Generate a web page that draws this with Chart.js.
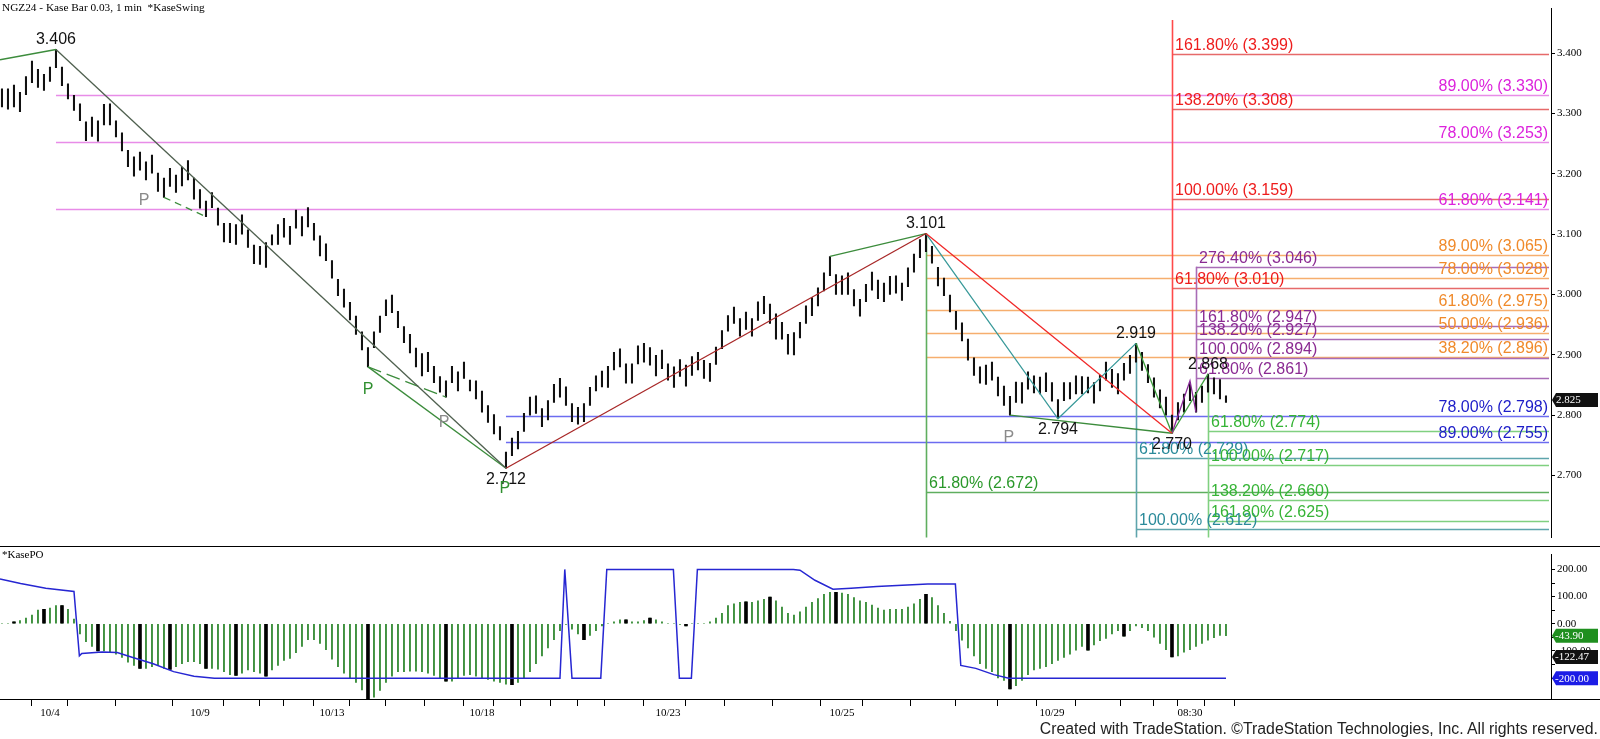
<!DOCTYPE html>
<html>
<head>
<meta charset="utf-8">
<title>NGZ24 Kase Bar</title>
<script src="https://cdn.jsdelivr.net/npm/chart.js@4.4.1/dist/chart.umd.min.js"></script>
<style>
  html, body { margin: 0; padding: 0; background: #fff; }
  #wrap { position: relative; width: 1600px; height: 739px; overflow: hidden; }
  canvas { position: absolute; left: 0; }
  #priceCanvas { top: 0; }
  #poCanvas { top: 546px; }
  .txt { position: absolute; font-family: 'Liberation Serif', 'Times New Roman', serif; color: #000; white-space: nowrap; }
  #title { left: 2px; top: 1px; font-size: 11.3px; }
  #poTitle { left: 2px; top: 548px; font-size: 11px; }
  #credit { right: 2px; top: 720px; font-family: 'Liberation Sans', Arial, sans-serif; font-size: 16px; color: #222; transform-origin: right center; }
</style>
</head>
<body>
<div id="wrap">
  <canvas id="priceCanvas" width="1600" height="546"></canvas>
  <canvas id="poCanvas" width="1600" height="193"></canvas>
  <div class="txt" id="title">NGZ24 - Kase Bar 0.03, 1 min&nbsp;&nbsp;*KaseSwing</div>
  <div class="txt" id="poTitle">*KasePO</div>
  <div class="txt" id="credit">Created with TradeStation. ©TradeStation Technologies, Inc. All rights reserved.</div>
</div>
<script>
// Kase bars (high / low), one per bar index
const barHigh = [
  3.341, 3.341, 3.347, 3.335, 3.361, 3.387, 3.373, 3.365, 3.377, 3.406,
  3.377, 3.349, 3.330, 3.316, 3.286, 3.294, 3.288, 3.315, 3.316, 3.288,
  3.268, 3.239, 3.228, 3.236, 3.220, 3.231, 3.201, 3.193, 3.209, 3.198,
  3.211, 3.222, 3.193, 3.174, 3.155, 3.169, 3.143, 3.118, 3.118, 3.116,
  3.132, 3.107, 3.082, 3.080, 3.086, 3.099, 3.116, 3.126, 3.113, 3.140,
  3.129, 3.144, 3.118, 3.097, 3.084, 3.056, 3.025, 3.009, 2.987, 2.964,
  2.938, 2.912, 2.938, 2.964, 2.991, 2.999, 2.972, 2.947, 2.934, 2.911,
  2.902, 2.904, 2.881, 2.864, 2.857, 2.881, 2.872, 2.888, 2.858, 2.857,
  2.840, 2.816, 2.801, 2.781, 2.739, 2.762, 2.773, 2.803, 2.830, 2.832,
  2.811, 2.824, 2.851, 2.861, 2.847, 2.819, 2.813, 2.819, 2.846, 2.865,
  2.873, 2.881, 2.904, 2.910, 2.885, 2.885, 2.915, 2.919, 2.912, 2.899,
  2.908, 2.885, 2.880, 2.892, 2.883, 2.897, 2.904, 2.891, 2.886, 2.913,
  2.940, 2.965, 2.979, 2.960, 2.971, 2.960, 2.988, 2.997, 2.984, 2.968,
  2.954, 2.934, 2.937, 2.954, 2.981, 2.995, 3.011, 3.036, 3.063, 3.033,
  3.031, 3.036, 3.008, 2.992, 3.017, 3.037, 3.024, 3.019, 3.030, 3.031,
  3.019, 3.044, 3.067, 3.091, 3.101, 3.080, 3.045, 3.027, 2.999, 2.972,
  2.953, 2.926, 2.895, 2.880, 2.883, 2.888, 2.863, 2.848, 2.831, 2.855,
  2.854, 2.872, 2.865, 2.863, 2.870, 2.854, 2.826, 2.854, 2.854, 2.865,
  2.864, 2.863, 2.854, 2.866, 2.888, 2.876, 2.869, 2.886, 2.899, 2.919,
  2.904, 2.884, 2.862, 2.842, 2.830, 2.800, 2.821, 2.835, 2.854, 2.838,
  2.848, 2.868, 2.862, 2.859, 2.832
];
const barLow = [
  3.311, 3.307, 3.311, 3.303, 3.331, 3.351, 3.343, 3.338, 3.353, 3.376,
  3.346, 3.324, 3.305, 3.288, 3.255, 3.262, 3.254, 3.281, 3.281, 3.261,
  3.238, 3.212, 3.196, 3.206, 3.190, 3.201, 3.171, 3.161, 3.179, 3.169,
  3.180, 3.190, 3.158, 3.143, 3.129, 3.144, 3.115, 3.087, 3.086, 3.083,
  3.100, 3.078, 3.051, 3.050, 3.045, 3.082, 3.083, 3.095, 3.083, 3.110,
  3.097, 3.112, 3.090, 3.064, 3.056, 3.027, 2.998, 2.979, 2.958, 2.934,
  2.908, 2.880, 2.912, 2.937, 2.965, 2.970, 2.945, 2.920, 2.903, 2.880,
  2.865, 2.872, 2.854, 2.838, 2.830, 2.854, 2.840, 2.861, 2.840, 2.827,
  2.805, 2.788, 2.769, 2.759, 2.712, 2.733, 2.744, 2.773, 2.800, 2.803,
  2.781, 2.792, 2.821, 2.830, 2.816, 2.789, 2.785, 2.789, 2.816, 2.840,
  2.847, 2.846, 2.875, 2.880, 2.853, 2.853, 2.885, 2.888, 2.883, 2.865,
  2.877, 2.858, 2.846, 2.864, 2.848, 2.866, 2.875, 2.861, 2.856, 2.884,
  2.910, 2.939, 2.952, 2.931, 2.942, 2.931, 2.957, 2.968, 2.952, 2.926,
  2.926, 2.901, 2.900, 2.928, 2.952, 2.965, 2.981, 3.006, 3.031, 3.000,
  3.000, 3.000, 2.981, 2.964, 2.988, 3.007, 2.993, 2.988, 3.000, 3.002,
  2.990, 3.013, 3.037, 3.061, 3.071, 3.052, 3.014, 2.998, 2.971, 2.942,
  2.923, 2.891, 2.866, 2.853, 2.851, 2.858, 2.832, 2.816, 2.800, 2.821,
  2.820, 2.843, 2.837, 2.835, 2.839, 2.823, 2.794, 2.824, 2.827, 2.835,
  2.835, 2.837, 2.820, 2.840, 2.858, 2.846, 2.835, 2.858, 2.869, 2.888,
  2.874, 2.854, 2.830, 2.812, 2.800, 2.770, 2.792, 2.805, 2.824, 2.805,
  2.821, 2.838, 2.835, 2.827, 2.821
];
const lastPrice = 2.825;

// KasePO histogram per bar, bars drawn black, and the blue band line
const poHist = [
  2, 2, 7, 12, 21, 32, 50, 53, 58, 67,
  67, 53, 17, -37, -66, -83, -100, -100, -106, -112,
  -124, -141, -153, -164, -164, -158, -153, -164, -168, -158,
  -147, -139, -139, -147, -164, -164, -167, -176, -187, -190,
  -182, -170, -176, -182, -193, -170, -153, -135, -127, -106,
  -83, -58, -58, -72, -95, -130, -158, -182, -199, -216,
  -243, -278, -270, -245, -216, -193, -176, -176, -174, -174,
  -176, -182, -190, -199, -211, -211, -199, -190, -187, -193,
  -199, -205, -211, -216, -222, -224, -216, -199, -176, -147,
  -118, -89, -58, -25, -2, -20, -37, -58, -43, -25,
  -8, 2, 7, 15, 15, 7, 7, 12, 21, 15,
  7, 2, 0, -2, -8, 0, 0, 2, 7, 21,
  38, 67, 73, 79, 81, 79, 84, 90, 98, 84,
  61, 38, 32, 44, 61, 79, 93, 108, 116, 116,
  113, 108, 96, 84, 79, 69, 58, 50, 53, 53,
  53, 61, 73, 90, 108, 96, 67, 38, 9, -25,
  -60, -89, -118, -147, -164, -176, -199, -208, -240, -228,
  -208, -187, -170, -164, -158, -147, -135, -124, -112, -97,
  -83, -97, -78, -62, -54, -37, -25, -46, -25, -8,
  -14, -25, -49, -72, -95, -122, -118, -104, -95, -83,
  -72, -60, -51, -43, -44
];
const poBlack = [2, 7, 10, 16, 23, 28, 34, 39, 44, 61, 74, 85, 97, 104, 108, 114, 124, 128, 139, 154, 168, 181, 187, 195];
const poBand = [
  [-0.33, 165], [3.1, 148], [7.3, 131], [12, 119], [12.9, -118], [13.3, -109], [16.7, -104],
  [19.2, -106], [21.8, -124], [25.2, -147], [28.6, -176], [32, -193], [35.4, -200],
  [93, -200], [93.8, 200], [95, -200], [99.8, -200], [100.8, 200], [111.9, 200],
  [112.9, -200], [114.9, -200], [115.9, 200], [131.9, 200], [133, 197], [135.5, 160],
  [138.5, 127], [141.5, 131], [145.8, 137], [154.3, 146], [158.9, 146], [159.8, -153],
  [162.3, -164], [165.3, -187], [167.8, -200], [204, -200]
];
const poTags = [[-43.90, '-43.90', '#1f8f1f'], [-122.47, '-122.47', '#111111'], [-200.00, '-200.00', '#1c1ce6']];

// swing lines [bar, price]
const swingGreenTop = [[-0.33, 3.389], [9, 3.406]];
const swingGrayDown = [[9, 3.406], [84, 2.712]];
const swingGreenP1 = [[27, 3.161], [34, 3.129]];
const swingGreenP2 = [[61, 2.880], [84, 2.712]];
const swingGreenP2b = [[61, 2.880], [74, 2.830]];
const swingRedUp = [[84, 2.712], [154, 3.101]];
const swingGreenHigh = [[138, 3.063], [154, 3.101]];
const swingRedDown = [[154, 3.101], [195, 2.770]];
const swingTeal = [[154, 3.101], [176, 2.794], [189, 2.919]];
const swingGreenDown = [[189, 2.919], [195, 2.770]];
const swingGreenLow = [[168, 2.800], [195, 2.770]];
const swingPurple = [[195, 2.770], [198, 2.857], [199, 2.805]];
const swingGreenUp = [[195, 2.770], [201, 2.868]];

// swing value labels [bar, price, side]
const swingLabels = [[9, 3.406, 'up'], [84, 2.712, 'down'], [154, 3.101, 'up'], [176, 2.794, 'down'],
  [189, 2.919, 'up'], [195, 2.770, 'down'], [201, 2.868, 'up']];
// pivot "P" markers [bar, price, colour key]
const pivotMarks = [[23.7, 3.155, 'gray'], [61, 2.843, 'green'], [73.7, 2.788, 'gray'], [83.8, 2.678, 'green'], [167.8, 2.763, 'gray']];

// Fibonacci levels [percent, price], anchor bar, and vertical extent
const magentaFib = [['89.00%', 3.330], ['78.00%', 3.253], ['61.80%', 3.141]];
const redFib = [['161.80%', 3.399], ['138.20%', 3.308], ['100.00%', 3.159], ['61.80%', 3.010]];
const orangeFib = [['89.00%', 3.065], ['78.00%', 3.028], ['61.80%', 2.975], ['50.00%', 2.936], ['38.20%', 2.896]];
const purpleFib = [['276.40%', 3.046], ['161.80%', 2.947], ['138.20%', 2.927], ['100.00%', 2.894], ['61.80%', 2.861]];
const blueFib = [['78.00%', 2.798], ['89.00%', 2.755]];
const greenFib = [['61.80%', 2.672]];
const tealFib = [['61.80%', 2.729], ['100.00%', 2.612]];
const limeFib = [['61.80%', 2.774], ['100.00%', 2.717], ['138.20%', 2.660], ['161.80%', 2.625]];
const fibAnchors = {
  magenta: [9], red: [195, 2.770, 3.455], orange: [154], purple: [199, 2.805, 3.046],
  blue: [84], green: [154, 2.55, 3.101], teal: [189, 2.55, 2.919], lime: [201, 2.55, 2.868]
};

// x axis: day separators and their labels
const dayTickBars = [8, 14, 24, 33, 41, 45, 49, 55, 61, 67, 74, 80, 84, 89, 94, 98, 103, 111, 117, 124,
  133, 140, 147, 156, 162, 170, 175, 183, 190, 194, 198, 203];
const dayTickText = ['10/4', '', '', '10/9', '', '', '', '10/13', '', '', '', '10/18', '', '', '', '', '', '10/23', '', '',
  '', '10/25', '', '', '', '', '10/29', '', '', '', '08:30', ''];
const priceTicks = [2.7, 2.8, 2.9, 3.0, 3.1, 3.2, 3.3, 3.4];
const poTicks = [-200, -150, -100, -50, 0, 50, 100, 150, 200];

const X_MIN = -0.33, X_MAX = 258.17;

const fibStyle = {
  magenta: { line: '#e88ce8', text: '#dc22dc', align: 'right' },
  red:     { line: '#e66a6a', text: '#ee1c1c', align: 'left', vline: '#ff4a4a' },
  orange:  { line: '#f6ae6e', text: '#f08a2a', align: 'right' },
  purple:  { line: '#a96cb6', text: '#8a2a92', align: 'left', vline: '#a96cb6' },
  blue:    { line: '#6c6cf0', text: '#1c1cc8', align: 'right' },
  green:   { line: '#5fae5f', text: '#2a982a', align: 'left', vline: '#5fae5f' },
  teal:    { line: '#5ea4ac', text: '#2a8a9a', align: 'left', vline: '#5ea4ac' },
  lime:    { line: '#80d080', text: '#36b436', align: 'left', vline: '#80d080' }
};
const fibGroups = [
  ['magenta', magentaFib], ['orange', orangeFib], ['red', redFib], ['purple', purpleFib],
  ['blue', blueFib], ['green', greenFib], ['teal', tealFib], ['lime', limeFib]
];

const SANS = '"Liberation Sans", Arial, sans-serif';
const SERIF = '"Liberation Serif", "Times New Roman", serif';

function lineSet(points, color, dash) {
  return {
    type: 'line',
    data: points.map(([x, y]) => ({ x, y })),
    borderColor: color,
    borderWidth: 1.3,
    borderDash: dash || [],
    pointRadius: 0,
    fill: false,
    tension: 0,
    order: 1
  };
}

const fibPlugin = {
  id: 'fibs',
  beforeDatasetsDraw(chart) {
    const { ctx, chartArea: a, scales: { x, y } } = chart;
    ctx.save();
    ctx.beginPath();
    ctx.rect(a.left, a.top, a.right - a.left, a.bottom - a.top);
    ctx.clip();
    ctx.lineWidth = 1.6;
    fibGroups.forEach(([key, levels]) => {
      const st = fibStyle[key];
      const anc = fibAnchors[key];
      const x0 = x.getPixelForValue(anc[0]);
      ctx.strokeStyle = st.line;
      levels.forEach(([, price]) => {
        const py = Math.round(y.getPixelForValue(price)) + 0.5;
        ctx.beginPath();
        ctx.moveTo(x0, py);
        ctx.lineTo(a.right - 2, py);
        ctx.stroke();
      });
      if (st.vline) {
        ctx.strokeStyle = st.vline;
        ctx.beginPath();
        ctx.moveTo(Math.round(x0) + 0.5, y.getPixelForValue(anc[1]));
        ctx.lineTo(Math.round(x0) + 0.5, y.getPixelForValue(anc[2]));
        ctx.stroke();
      }
    });
    ctx.restore();
  },
  afterDatasetsDraw(chart) {
    const { ctx, chartArea: a, scales: { x, y } } = chart;
    ctx.save();
    ctx.font = '16px ' + SANS;
    ctx.textBaseline = 'alphabetic';
    fibGroups.forEach(([key, levels]) => {
      const st = fibStyle[key];
      const x0 = x.getPixelForValue(fibAnchors[key][0]);
      ctx.fillStyle = st.text;
      ctx.textAlign = st.align;
      levels.forEach(([pct, price]) => {
        const py = y.getPixelForValue(price) - 4;
        const label = pct + ' (' + price.toFixed(3) + ')';
        ctx.fillText(label, st.align === 'right' ? a.right - 3 : x0 + 3, py);
      });
    });

    // swing values
    ctx.fillStyle = '#111';
    ctx.textAlign = 'center';
    ctx.textBaseline = 'middle';
    swingLabels.forEach(([bar, price, side]) => {
      const px = x.getPixelForValue(bar);
      const py = y.getPixelForValue(price) + (side === 'up' ? -10 : 11);
      ctx.fillText(price.toFixed(3), px, py);
    });
    // pivot markers
    pivotMarks.forEach(([bar, price, c]) => {
      ctx.fillStyle = c === 'green' ? '#2f8f2f' : '#8a8a8a';
      ctx.fillText('P', x.getPixelForValue(bar), y.getPixelForValue(price));
    });

    // last price tag on the axis
    const ty = y.getPixelForValue(lastPrice);
    ctx.fillStyle = '#111';
    ctx.beginPath();
    ctx.moveTo(a.right + 1, ty);
    ctx.lineTo(a.right + 5, ty - 7);
    ctx.lineTo(1598, ty - 7);
    ctx.lineTo(1598, ty + 7);
    ctx.lineTo(a.right + 5, ty + 7);
    ctx.closePath();
    ctx.fill();
    ctx.fillStyle = '#fff';
    ctx.font = '11px ' + SERIF;
    ctx.textAlign = 'left';
    ctx.fillText(lastPrice.toFixed(3), a.right + 5, ty + 0.5);
    ctx.restore();
  }
};

const priceChart = new Chart(document.getElementById('priceCanvas'), {
  type: 'bar',
  data: {
    datasets: [
      {
        type: 'bar',
        data: barHigh.map((h, i) => ({ x: i, y: [barLow[i], h] })),
        backgroundColor: '#111',
        barThickness: 1.4,
        grouped: false,
        order: 3
      },
      lineSet(swingGreenTop, '#3c8c3c'),
      lineSet(swingGrayDown, '#4f604f'),
      lineSet(swingGreenP1, '#3c8c3c', [7, 5]),
      lineSet(swingGreenP2, '#3c8c3c'),
      lineSet(swingGreenP2b, '#3c8c3c', [14, 6]),
      lineSet(swingRedUp, '#a82828'),
      lineSet(swingGreenHigh, '#3c8c3c'),
      lineSet(swingRedDown, '#f02828'),
      lineSet(swingTeal, '#3a9a9a'),
      lineSet(swingGreenDown, '#3c9c3c'),
      lineSet(swingGreenLow, '#3c8c3c'),
      lineSet(swingPurple, '#8a2a9a'),
      lineSet(swingGreenUp, '#3c9c3c')
    ]
  },
  options: {
    responsive: false,
    animation: false,
    layout: { padding: 0 },
    plugins: { legend: { display: false }, tooltip: { enabled: false } },
    scales: {
      x: { type: 'linear', min: X_MIN, max: X_MAX, offset: false, display: false },
      y: {
        position: 'right',
        min: 2.5974,
        max: 3.4738,
        afterFit: s => { s.width = 49; },
        afterBuildTicks: s => { s.ticks = priceTicks.map(v => ({ value: v })); },
        ticks: { callback: v => v.toFixed(3), font: { family: SERIF, size: 11 }, color: '#000', padding: 2 },
        grid: { drawOnChartArea: false, tickLength: 4, color: '#000' },
        border: { color: '#000' }
      }
    }
  },
  plugins: [fibPlugin]
});

const poPlugin = {
  id: 'poFrame',
  afterDraw(chart) {
    const { ctx, chartArea: a, scales: { y } } = chart;
    ctx.save();
    ctx.strokeStyle = '#000';
    ctx.lineWidth = 1;
    ctx.beginPath();
    ctx.moveTo(0, 0.5); ctx.lineTo(1600, 0.5);
    ctx.moveTo(0, a.bottom + 0.5); ctx.lineTo(1600, a.bottom + 0.5);
    ctx.stroke();
    ctx.font = '11px ' + SERIF;
    ctx.textBaseline = 'middle';
    ctx.textAlign = 'left';
    poTags.forEach(([v, text, color]) => {
      const ty = y.getPixelForValue(v);
      ctx.fillStyle = color;
      ctx.beginPath();
      ctx.moveTo(a.right + 1, ty);
      ctx.lineTo(a.right + 5, ty - 7);
      ctx.lineTo(1598, ty - 7);
      ctx.lineTo(1598, ty + 7);
      ctx.lineTo(a.right + 5, ty + 7);
      ctx.closePath();
      ctx.fill();
      ctx.fillStyle = '#fff';
      ctx.fillText(text, a.right + 4, ty + 0.5);
    });
    ctx.restore();
  }
};

const poChart = new Chart(document.getElementById('poCanvas'), {
  type: 'bar',
  data: {
    datasets: [
      {
        type: 'line',
        data: poBand.map(([x, y]) => ({ x, y })),
        borderColor: '#2626d2',
        borderWidth: 1.5,
        pointRadius: 0,
        tension: 0,
        order: 0
      },
      {
        type: 'bar',
        data: poBlack.map(i => ({ x: i, y: poHist[i] })),
        backgroundColor: '#000',
        barThickness: 3,
        grouped: false,
        order: 1
      },
      {
        type: 'bar',
        data: poHist.map((v, i) => ({ x: i, y: v })),
        backgroundColor: '#1f7f1f',
        barThickness: 1,
        grouped: false,
        order: 2
      }
    ]
  },
  options: {
    responsive: false,
    animation: false,
    layout: { padding: 0 },
    plugins: { legend: { display: false }, tooltip: { enabled: false } },
    scales: {
      x: {
        type: 'linear',
        min: X_MIN,
        max: X_MAX,
        offset: false,
        afterFit: s => { s.height = 40; },
        afterBuildTicks: s => { s.ticks = dayTickBars.map(v => ({ value: v })); },
        ticks: {
          autoSkip: false, maxRotation: 0, padding: 1,
          callback: (v, i) => dayTickText[i],
          font: { family: SERIF, size: 11 }, color: '#000'
        },
        grid: { drawOnChartArea: false, tickLength: 7, color: '#000' },
        border: { color: '#000' }
      },
      y: {
        position: 'right',
        min: -276.7,
        max: 254.5,
        afterFit: s => { s.width = 49; },
        afterBuildTicks: s => { s.ticks = poTicks.map(v => ({ value: v })); },
        ticks: {
          callback: v => (v % 100 === 0 ? v.toFixed(2) : ''),
          font: { family: SERIF, size: 11 }, color: '#000', padding: 2
        },
        grid: { drawOnChartArea: false, tickLength: 4, color: '#000' },
        border: { color: '#000' }
      }
    }
  },
  plugins: [poPlugin]
});

// squeeze the credit line to the width it has in the picture
const credit = document.getElementById('credit');
credit.style.transform = 'scaleX(' + (558 / credit.offsetWidth).toFixed(3) + ')';
</script>
</body>
</html>
